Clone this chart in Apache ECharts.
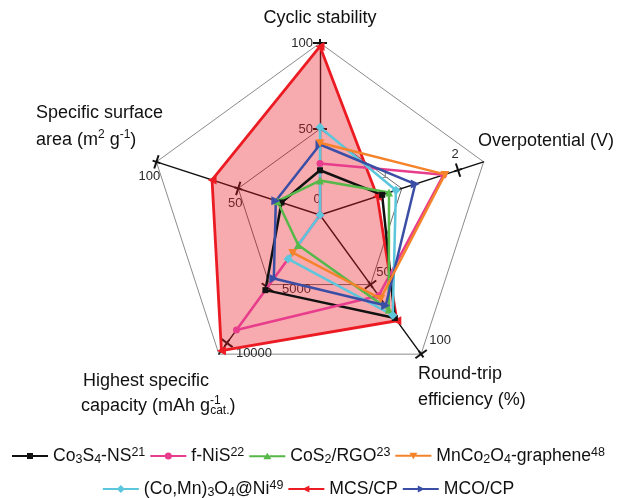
<!DOCTYPE html>
<html><head><meta charset="utf-8">
<script src="https://cdn.jsdelivr.net/npm/echarts@6/dist/echarts.min.js"></script>
<style>html,body{margin:0;padding:0;background:#fff}#c{width:617px;height:498px}</style>
</head><body><div id="c"></div>
<script>
// ---- data ----
const categories = ['Cyclic stability', 'Specific surface area', 'Highest specific capacity', 'Round-trip efficiency', 'Overpotential'];
const axisMin = [0, 0, -1500, 0, 0];
const axisMax = [100, 100, 11000, 100, 2.37];
const seriesNames = ['Co3S4-NS', 'f-NiS', 'CoS2/RGO', 'MnCo2O4-graphene', '(Co,Mn)3O4@Ni', 'MCS/CP', 'MCO/CP'];
// values: [cyclic, surface area, capacity, round-trip, overpotential]
const co3s4 = [26, 23.5, 5250, 74, 0.90];
const fNiS = [30, 0, 8830, 58, 1.79];
const cos2 = [20, 26, 1190, 68, 1.00];
const mnco2o4 = [42, '-', 1875, 60, 1.81];
const comn = [51, 0, 2450, 72, 1.10];
const mcs = [98, 66, 10690, 76, 0.83];
const mco = [41, 27, 4210, 65, 1.38];
// tick labels per axis
const tickCyclic = [0, 50, 100];
const tickSurface = [50, 100];
const tickCapacity = [5000, 10000];
const tickRoundTrip = [50, 100];
const tickOverpotential = [1, 2];

const FONT = '"Liberation Sans", Arial, Helvetica, sans-serif';
const colors = ['#111111', '#e83d8d', '#55b848', '#f5832a', '#5cc6dc', '#ec1c24', '#3a4ea5'];
const legendLabels = {
  'Co3S4-NS': 'Co{sub|3}S{sub|4}-NS{sup|21}',
  'f-NiS': 'f-NiS{sup|22}',
  'CoS2/RGO': 'CoS{sub|2}/RGO{sup|23}',
  'MnCo2O4-graphene': 'MnCo{sub|2}O{sub|4}-graphene{sup|48}',
  '(Co,Mn)3O4@Ni': '(Co,Mn){sub|3}O{sub|4}@Ni{sup|49}',
  'MCS/CP': 'MCS/CP',
  'MCO/CP': 'MCO/CP'
};
const L = 'M0,4 L16,4 L16,6 L0,6 Z M20,4 L36,4 L36,6 L20,6 Z ';
const legendIcons = [
  'path://' + L + 'M15,2 L21,2 L21,8 L15,8 Z',
  'path://M0,4 L14.6,4 L14.6,6 L0,6 Z M21.4,4 L36,4 L36,6 L21.4,6 Z M14.5,5 A3.5,3.5 0 1 1 21.5,5 A3.5,3.5 0 1 1 14.5,5 Z',
  'path://' + L + 'M18,1.5 L22,8 L14,8 Z',
  'path://' + L + 'M14,2 L22,2 L18,8.5 Z',
  'path://' + L + 'M18,1 L22,5 L18,9 L14,5 Z',
  'path://' + L + 'M14,5 L21,1.5 L21,8.5 Z',
  'path://' + L + 'M22,5 L15,8.5 L15,1.5 Z'
];
const symbols = [['rect', 6, 0], ['circle', 7, 0], ['triangle', 8, 0], ['triangle', 8, 180], ['diamond', 9, 0], ['triangle', 9, 90], ['triangle', 9, -90]];
const allValues = [co3s4, fNiS, cos2, mnco2o4, comn, mcs, mco];

function mkSeries(i) {
  const hidden = i === 3; // open polyline drawn separately
  const s = {
    type: 'radar', name: seriesNames[i], silent: true,
    symbol: hidden ? 'none' : symbols[i][0], symbolSize: symbols[i][1], symbolRotate: symbols[i][2],
    data: [{ name: seriesNames[i], value: allValues[i] }],
    itemStyle: { color: colors[i] },
    lineStyle: { color: colors[i], width: i === 5 ? 2.8 : 2.5, opacity: hidden ? 0 : 1 }
  };
  if (i === 5) s.areaStyle = { color: '#ec1c24', opacity: 0.37 };
  return s;
}
const order = [5, 0, 1, 2, 4, 6, 3];

const legendText = {
  fontSize: 17.6, fontFamily: FONT, color: '#111', lineHeight: 20,
  rich: {
    sub: { fontSize: 12.5, fontFamily: FONT, color: '#111', lineHeight: 12, verticalAlign: 'bottom' },
    sup: { fontSize: 12.5, fontFamily: FONT, color: '#111', lineHeight: 12, verticalAlign: 'top' }
  }
};
function mkLegend(idxs, top) {
  return {
    top: top, left: 'center', padding: 0, itemGap: 5, itemWidth: 36, itemHeight: 10,
    selectedMode: false, itemStyle: { borderWidth: 0 },
    data: idxs.map(i => ({ name: seriesNames[i], icon: legendIcons[i] })),
    formatter: n => legendLabels[n], textStyle: legendText
  };
}

const chart = echarts.init(document.getElementById('c'));
chart.setOption({
  animation: false,
  backgroundColor: '#fff',
  radar: {
    center: [320, 215], radius: 172, startAngle: 90, splitNumber: 2, shape: 'polygon',
    indicator: categories.map((n, i) => ({ name: n, min: axisMin[i], max: axisMax[i] })),
    axisName: { show: false },
    splitLine: { lineStyle: { color: ['#777', '#6a6a6a', '#8c8c8c'], width: 1 } },
    splitArea: { show: false },
    axisLine: { lineStyle: { color: '#111', width: 1.4 } },
    axisTick: { show: false }, axisLabel: { show: false }
  },
  legend: [mkLegend([0, 1, 2, 3], 446), mkLegend([4, 5, 6], 479)],
  series: order.map(mkSeries)
});

// ---- decorations computed from the radar coordinate system ----
const rc = chart.getModel().getComponent('radar', 0).coordinateSystem;
const C = [rc.cx, rc.cy];
const pt = (v, i) => rc.dataToPoint(v, i);
const graphics = [];
const tickSets = [tickCyclic, tickSurface, tickCapacity, tickRoundTrip, tickOverpotential];
// label offsets (pixels) per axis/tick, layout only
const labelLayout = {
  '0:0': [-3, -16, 'center'], '0:50': [-7, 0, 'right'], '0:100': [-7, 0, 'right'],
  '1:50': [-3, 15, 'center'], '1:100': [-7, 15, 'center'],
  '2:5000': [29, 2, 'center'], '2:10000': [27, 10, 'center'],
  '3:50': [13, -12, 'center'], '3:100': [19, -14, 'center'],
  '4:1': [-4, -18, 'center'], '4:2': [-3, -16, 'center']
};
tickSets.forEach((ticks, ai) => {
  ticks.forEach(v => {
    const p = pt(v, ai);
    const key = ai + ':' + v;
    const faint = (ai === 4 && v === 1);
    if (v !== 0 && !faint) {
      const tip = pt(axisMax[ai], ai);
      const dx = tip[0] - C[0], dy = tip[1] - C[1], len = Math.hypot(dx, dy);
      const u = [dx / len, dy / len], n = [-u[1], u[0]];
      graphics.push({ type: 'line', z: 1, silent: true,
        shape: { x1: p[0] - n[0] * 7, y1: p[1] - n[1] * 7, x2: p[0] + n[0] * 7, y2: p[1] + n[1] * 7 },
        style: { stroke: '#111', lineWidth: 2 } });
      graphics.push({ type: 'line', z: 1, silent: true,
        shape: { x1: p[0] - u[0] * 4, y1: p[1] - u[1] * 4, x2: p[0] + u[0] * 4, y2: p[1] + u[1] * 4 },
        style: { stroke: '#111', lineWidth: 2 } });
    }
    const o = labelLayout[key];
    graphics.push({ type: 'text', z: 1, silent: true, x: p[0] + o[0], y: p[1] + o[1],
      style: { text: String(v), fill: faint ? '#888' : '#2a2a2a', fontSize: 13, fontFamily: FONT,
        align: o[2], verticalAlign: 'middle' } });
  });
});
// open polyline for the series with a missing value
const vals = mnco2o4;
const ok = vals.map(v => v !== '-' && v != null);
for (let i = 0; i < vals.length; i++) {
  const j = (i + 1) % vals.length;
  if (ok[i] && ok[j]) {
    const a = pt(vals[i], i), b = pt(vals[j], j);
    graphics.push({ type: 'line', z: 3, silent: true, shape: { x1: a[0], y1: a[1], x2: b[0], y2: b[1] },
      style: { stroke: colors[3], lineWidth: 2.5 } });
  }
}
vals.forEach((v, i) => {
  if (!ok[i]) return;
  const p = pt(v, i);
  graphics.push({ type: 'polygon', z: 3, silent: true,
    shape: { points: [[p[0] - 4.5, p[1] - 3.5], [p[0] + 4.5, p[1] - 3.5], [p[0], p[1] + 4.5]] },
    style: { fill: colors[3] } });
});
// axis names
const nameRich = {
  sup: { fontSize: 12, fontFamily: FONT, fill: '#111', lineHeight: 12, verticalAlign: 'top' },
  supz: { fontSize: 12, fontFamily: FONT, fill: '#111', lineHeight: 12, verticalAlign: 'top', width: 0.1 },
  sub: { fontSize: 12, fontFamily: FONT, fill: '#111', lineHeight: 12, verticalAlign: 'bottom' }
};
const names = [
  ['Cyclic stability', 320, 18, 'center'],
  ['Overpotential (V)', 478, 141, 'left'],
  ['Round-trip', 418, 374, 'left'],
  ['efficiency (%)', 418, 400, 'left'],
  ['Highest specific', 83, 381, 'left'],
  ['capacity (mAh g{supz|-1}{sub|cat.})', 81, 406, 'left'],
  ['Specific surface', 36, 113, 'left'],
  ['area (m{sup|2} g{sup|-1})', 36, 140, 'left']
];
names.forEach(n => graphics.push({ type: 'text', z: 4, silent: true, x: n[1], y: n[2],
  style: { text: n[0], fill: '#111', fontSize: 18, fontFamily: FONT, lineHeight: 22, align: n[3],
    verticalAlign: 'middle', rich: nameRich } }));
chart.setOption({ graphic: graphics });
</script></body></html>
